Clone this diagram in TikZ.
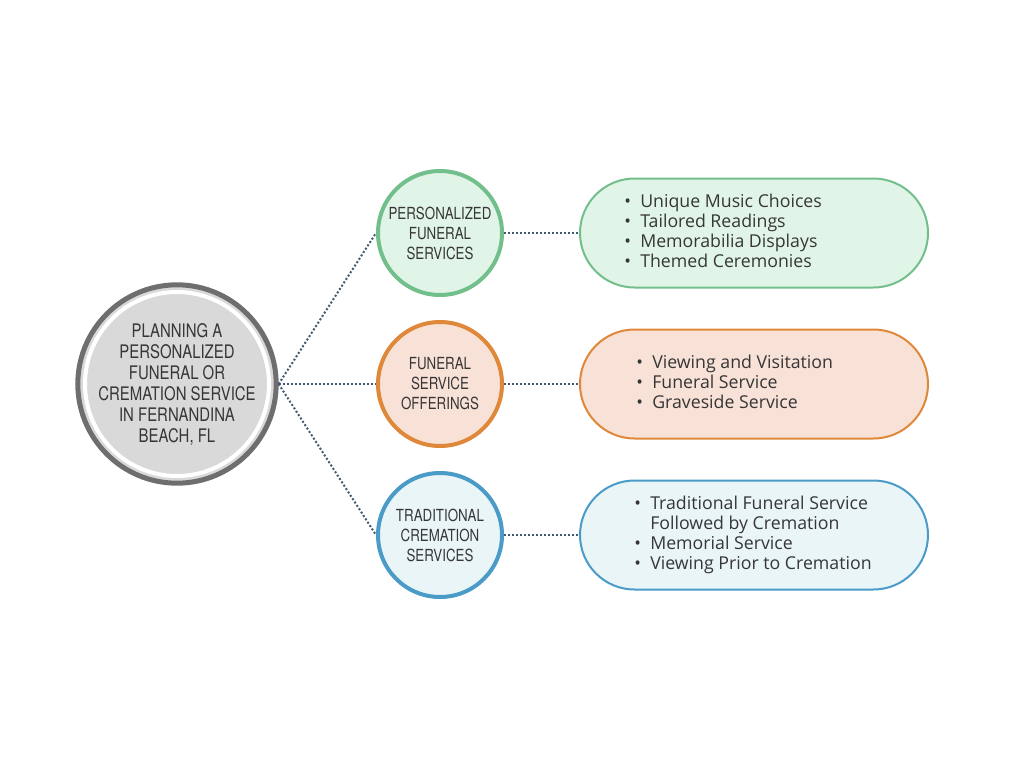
\documentclass[tikz,border=0pt]{standalone}
\usepackage{fontspec}
\setsansfont{TeX Gyre Heros}[FakeStretch=0.8]
\newfontfamily\listfont{Open Sans}
\usetikzlibrary{positioning}
\definecolor{ringgray}{HTML}{6E6E6E}
\definecolor{planfill}{HTML}{D9D9D9}
\definecolor{txtgray}{HTML}{363636}
\definecolor{linkblue}{HTML}{425A70}
\definecolor{greendraw}{HTML}{72BF8B}
\definecolor{greenfill}{HTML}{E0F5E7}
\definecolor{orangedraw}{HTML}{E0883A}
\definecolor{orangefill}{HTML}{F8E1D7}
\definecolor{bluedraw}{HTML}{4B9BC8}
\definecolor{bluefill}{HTML}{EAF5F8}
\begin{document}
\begin{tikzpicture}[x=0.75pt,y=-0.75pt,
        main node/.style={circle,draw=ringgray,fill=planfill,line width=3.75pt,minimum size=144.75pt,
            inner sep=0pt,align=center,text=txtgray,font=\sffamily\fontsize{14}{15.75}\selectfont},
        topic node/.style={circle,line width=3pt,minimum size=93pt,inner sep=0pt,align=center,
            text=txtgray,font=\sffamily\fontsize{12.5}{15}\selectfont},
        pill node/.style={rectangle,rounded corners=40.9pt,line width=1.5pt,minimum width=261pt,
            minimum height=81.75pt},
        list node/.style={anchor=west,inner sep=0pt,text=txtgray,font=\listfont\fontsize{13.3}{15}\selectfont},
        link/.style={linkblue,line width=1.5pt,dash pattern=on 1.5pt off 1.5pt}]
        \useasboundingbox (0,0) rectangle (1024,768);
        \node[main node] (plan) at (177,384) {PLANNING A\\PERSONALIZED\\FUNERAL OR\\CREMATION SERVICE\\IN FERNANDINA\\BEACH, FL};
        \draw[white,line width=3pt] (plan.center) circle (69pt);
        \node[topic node, draw=greendraw, fill=greenfill] (pers) at (440,233) {PERSONALIZED\\FUNERAL\\SERVICES};
        \node[topic node, draw=orangedraw, fill=orangefill] (offer) at (440,384) {FUNERAL\\SERVICE\\OFFERINGS};
        \node[topic node, draw=bluedraw, fill=bluefill] (trad) at (440,535) {TRADITIONAL\\CREMATION\\SERVICES};
        \node[pill node, draw=greendraw, fill=greenfill] (persL) at (754,233) {};
        \node[pill node, draw=orangedraw, fill=orangefill] (offerL) at (754,384) {};
        \node[pill node, draw=bluedraw, fill=bluefill] (tradL) at (754,535) {};
        \node[list node, right=33.75pt of persL.west] (persT) {\begin{tabular}{@{}l@{\hspace{7pt}}l@{}}
            \textbullet & Unique Music Choices\\ \textbullet & Tailored Readings\\
            \textbullet & Memorabilia Displays\\ \textbullet & Themed Ceremonies\end{tabular}};
        \node[list node, right=42.75pt of offerL.west] (offerT) {\begin{tabular}{@{}l@{\hspace{7pt}}l@{}}
            \textbullet & Viewing and Visitation\\ \textbullet & Funeral Service\\
            \textbullet & Graveside Service\end{tabular}};
        \node[list node, right=41.25pt of tradL.west] (tradT) {\begin{tabular}{@{}l@{\hspace{7pt}}l@{}}
            \textbullet & Traditional Funeral Service\\ & Followed by Cremation\\
            \textbullet & Memorial Service\\ \textbullet & Viewing Prior to Cremation\end{tabular}};
        \path[link]
        (plan.east) edge (pers.west)
        (plan.east) edge (offer.west)
        (plan.east) edge (trad.west)
        (pers.east) edge (persL.west)
        (offer.east) edge (offerL.west)
        (trad.east) edge (tradL.west)
        ;
\end{tikzpicture}
\end{document}
